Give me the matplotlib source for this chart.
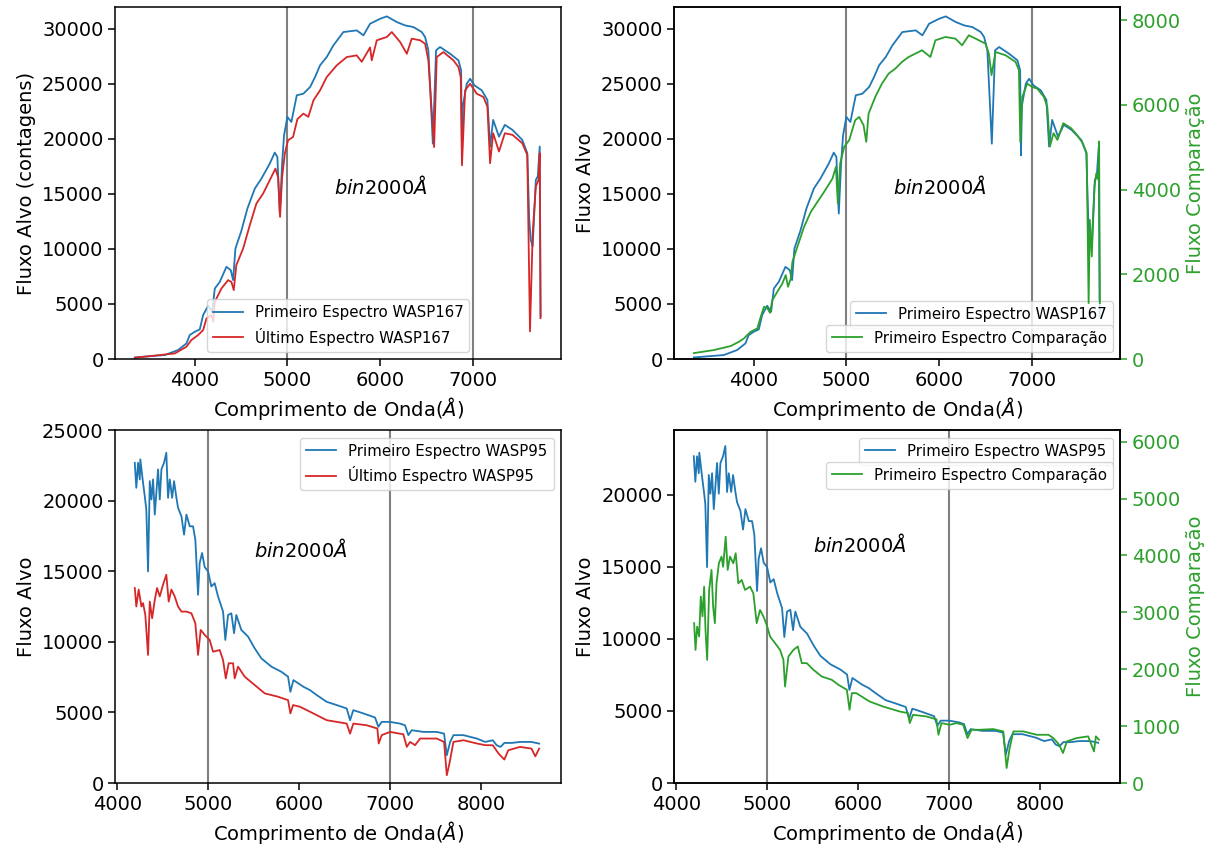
import matplotlib
matplotlib.use("Agg")
import matplotlib.pyplot as plt

# ---------------- data ----------------
w167_first_wl = [3355, 3678, 3821, 3911, 3947, 4001, 4055, 4091, 4145, 4188, 4217, 4271, 4342, 4389, 4414,
                 4439, 4503, 4568, 4648, 4719, 4809, 4863, 4891, 4917, 4942, 4963, 4999, 5042, 5100, 5171,
                 5244, 5297, 5351, 5423, 5495, 5602, 5746, 5818, 5890, 5998, 6070, 6178, 6267, 6357, 6447,
                 6483, 6518, 6566, 6601, 6644, 6752, 6842, 6871, 6880, 6890, 6932, 6968, 7014, 7093, 7154,
                 7183, 7216, 7279, 7342, 7425, 7530, 7584, 7605, 7621, 7642, 7676, 7697, 7718, 7728]
w167_first_flux = [145, 363, 817, 1416, 2178, 2477, 2690, 3993, 4837, 4292, 6406, 7014, 8375, 8073, 7168,
                   10036, 11642, 13666, 15480, 16388, 17750, 18748, 18357, 13213, 17750, 20326, 21986, 21533, 23955, 24100,
                   24710, 25616, 26678, 27432, 28493, 29700, 29852, 29400, 30453, 30906, 31124, 30607, 30306, 30153, 29700,
                   29246, 28040, 19563, 28040, 28340, 27730, 27130, 26224, 18500, 23000, 25010, 25460, 24860, 24410, 23535,
                   19300, 21720, 20200, 21270, 20810, 19900, 18700, 12650, 10830, 10220, 16270, 16580, 19300, 3870]

w167_last_wl = [3355, 3786, 3911, 3964, 4037, 4091, 4127, 4181, 4200, 4217, 4288, 4360, 4396, 4421, 4449,
                4522, 4594, 4665, 4737, 4809, 4870, 4899, 4920, 4942, 4971, 5006, 5060, 5107, 5171, 5225,
                5280, 5351, 5423, 5531, 5639, 5746, 5800, 5890, 5908, 5962, 6070, 6124, 6214, 6286, 6339,
                6429, 6483, 6518, 6580, 6608, 6680, 6788, 6842, 6867, 6880, 6914, 6968, 7039, 7111, 7154,
                7183, 7216, 7279, 7342, 7425, 7530, 7584, 7613, 7642, 7676, 7705, 7718, 7726]
w167_last_flux = [120, 508, 1116, 1724, 2178, 2631, 3684, 3993, 3400, 5200, 6406, 7168, 7000, 6260, 8530,
                  10036, 12160, 14120, 15027, 16240, 17300, 16500, 12912, 16480, 18660, 19870, 20170, 21800, 22290, 22000,
                  23500, 24410, 25616, 26678, 27430, 27580, 27000, 28300, 27130, 28950, 29250, 29700, 28790, 27730, 29100,
                  28950, 28640, 27130, 19260, 27430, 27880, 27130, 26520, 25600, 17600, 24410, 25010, 24100, 23800, 22930,
                  17790, 20510, 18850, 20510, 20360, 19600, 18540, 2510, 11430, 15670, 16270, 18700, 3720]

comp167_wl = [3355, 3571, 3752, 3841, 3895, 3968, 4039, 4076, 4111, 4147, 4176, 4201, 4255, 4309, 4345,
              4370, 4400, 4417, 4471, 4543, 4616, 4687, 4759, 4849, 4886, 4907, 4932, 4975, 5029, 5094,
              5137, 5184, 5213, 5238, 5310, 5382, 5454, 5526, 5598, 5670, 5814, 5904, 5958, 6066, 6174,
              6246, 6318, 6426, 6498, 6534, 6563, 6606, 6714, 6822, 6858, 6873, 6894, 6948, 7002, 7056,
              7127, 7164, 7192, 7231, 7273, 7336, 7420, 7483, 7546, 7588, 7609, 7622, 7643, 7672, 7692,
              7713, 7722, 7730]
comp167_flux = [140, 212, 306, 408, 486, 644, 722, 997, 1233, 1200, 1092, 1391, 1587, 1783, 1981,
                1705, 1901, 2294, 2648, 3120, 3473, 3709, 3945, 4259, 4534, 3670, 4612, 5006, 5164, 5636,
                5713, 5518, 5124, 5791, 6185, 6499, 6735, 6853, 7011, 7128, 7286, 7128, 7522, 7600, 7560,
                7404, 7640, 7522, 7443, 7207, 6700, 7246, 7168, 7011, 6815, 5124, 6185, 6499, 6420, 6381,
                6185, 5949, 5015, 5330, 5172, 5565, 5447, 5290, 5093, 4857, 1320, 3285, 2420, 4071, 4386,
                4229, 5133, 1320]

w95_first_wl = [4194, 4211, 4230, 4249, 4255, 4285, 4304, 4321, 4340, 4359, 4377, 4395, 4414, 4450, 4469,
                4487, 4516, 4541, 4560, 4579, 4605, 4626, 4652, 4670, 4707, 4736, 4762, 4799, 4835, 4860,
                4890, 4908, 4934, 4963, 5000, 5036, 5073, 5110, 5165, 5190, 5220, 5256, 5286, 5311, 5366,
                5440, 5513, 5586, 5697, 5806, 5880, 5906, 5939, 6048, 6121, 6195, 6305, 6415, 6525, 6562,
                6598, 6708, 6837, 6873, 6910, 7001, 7111, 7166, 7203, 7240, 7368, 7515, 7596, 7626, 7663,
                7699, 7809, 7956, 8048, 8132, 8174, 8217, 8259, 8344, 8430, 8557, 8642]
w95_first_flux = [22680, 20910, 22680, 21500, 22920, 21260, 20310, 19370, 14985, 21380, 20080, 21500, 19010, 22210, 20080,
                  22210, 22680, 23390, 20200, 21500, 20200, 21380, 20200, 19490, 18890, 17590, 19010, 18180, 18180, 17240,
                  13330, 15580, 16290, 15290, 14990, 13920, 14150, 13210, 12140, 10130, 11900, 12020, 10610, 11900, 10840,
                  10370, 9540, 8830, 8240, 7880, 7530, 6460, 7290, 6820, 6580, 6230, 5750, 5520, 5280, 4450,
                  5160, 4930, 4640, 3980, 4330, 4330, 4210, 4090, 3390, 3740, 3620, 3620, 3500, 1970, 2910,
                  3390, 3390, 3150, 2910, 3030, 2675, 2556, 2840, 2840, 2910, 2910, 2790]

w95_last_wl = [4194, 4211, 4237, 4267, 4285, 4310, 4340, 4359, 4385, 4414, 4439, 4469, 4505, 4541, 4567,
               4597, 4633, 4670, 4707, 4762, 4817, 4860, 4890, 4919, 4963, 5018, 5055, 5128, 5165, 5195,
               5227, 5275, 5293, 5330, 5403, 5513, 5623, 5770, 5880, 5906, 5935, 6011, 6158, 6305, 6525,
               6562, 6598, 6745, 6862, 6877, 6910, 7001, 7148, 7186, 7222, 7277, 7332, 7515, 7596, 7626,
               7655, 7699, 7809, 7956, 8048, 8132, 8196, 8259, 8302, 8430, 8557, 8600, 8642]
w95_last_flux = [13810, 12500, 13700, 12500, 12740, 11910, 9070, 12850, 11670, 12970, 13810, 13220, 14050, 14750, 12850,
                 13700, 13220, 12500, 12140, 12140, 12020, 11320, 9070, 10840, 10490, 10130, 9300, 9420, 8710, 7410,
                 8480, 8480, 7410, 8240, 7530, 6940, 6350, 6110, 5870, 4930, 5520, 5400, 4930, 4450, 4210,
                 3500, 4210, 4090, 3860, 2800, 3390, 3620, 3450, 2560, 2910, 2680, 3150, 3150, 2910, 550,
                 1380, 2910, 3030, 2800, 2680, 2675, 2080, 1660, 2320, 2556, 2440, 1890, 2440]

comp95_wl = [4198, 4213, 4231, 4253, 4271, 4290, 4308, 4323, 4341, 4363, 4389, 4407, 4426, 4444, 4470,
             4499, 4517, 4545, 4567, 4592, 4629, 4655, 4684, 4721, 4758, 4813, 4849, 4886, 4923, 4959,
             4996, 5033, 5088, 5143, 5180, 5198, 5235, 5290, 5338, 5382, 5437, 5510, 5602, 5713, 5786,
             5878, 5907, 5933, 5981, 6128, 6275, 6459, 6551, 6569, 6606, 6753, 6863, 6885, 6918, 7010,
             7084, 7157, 7205, 7249, 7341, 7488, 7598, 7635, 7665, 7709, 7819, 7966, 8095, 8149, 8213,
             8255, 8298, 8404, 8532, 8596, 8617, 8651]
comp95_flux = [2810, 2340, 2750, 2575, 3277, 2930, 3452, 2690, 2165, 3394, 3746, 3100, 2810, 3510, 3863,
               3980, 3800, 4330, 3746, 3980, 3863, 4039, 3510, 3570, 3394, 3452, 3335, 2810, 3042, 2930,
               2780, 2575, 2458, 2340, 2165, 1696, 2224, 2340, 2400, 2107, 2107, 1990, 1872, 1813, 1725,
               1638, 1287, 1580, 1580, 1433, 1345, 1257, 1228, 1053, 1199, 1170, 1120, 848, 1053, 1024,
               1053, 1024, 790, 936, 936, 948, 907, 263, 585, 907, 907, 848, 848, 790, 673,
               527, 732, 790, 820, 556, 820, 761]

top_xticks = [4000, 5000, 6000, 7000]
bottom_xticks = [4000, 5000, 6000, 7000, 8000]
bin_lines = [5000, 7000]
annot = r'$bin2000\AA$'

# ---------------- style ----------------
BLUE, RED, GREEN = '#1f77b4', '#d62728', '#2ca02c'
FS = 14
plt.rcParams.update({
    'font.size': FS,
    'axes.linewidth': 1.1,
    'xtick.major.width': 1.1, 'ytick.major.width': 1.1,
    'xtick.major.size': 4.8, 'ytick.major.size': 4.8,
    'legend.fontsize': 10.8,
})
LW = 1.3

fig = plt.figure(figsize=(12.2, 8.5), dpi=100)
W, H = 0.3656, 0.4141
ax_tl = fig.add_axes([0.0943, 0.5776, W, H])
ax_tr = fig.add_axes([0.5525, 0.5776, W, H])
ax_bl = fig.add_axes([0.0943, 0.0788, W, 0.4153])
ax_br = fig.add_axes([0.5525, 0.0788, W, 0.4153])

xlabel = 'Comprimento de Onda($\\AA$)'

def vlines(ax):
    for v in bin_lines:
        ax.axvline(v, color='gray', lw=1.5)

# top-left
vlines(ax_tl)
ax_tl.plot(w167_first_wl, w167_first_flux, color=BLUE, lw=LW, label='Primeiro Espectro WASP167')
ax_tl.plot(w167_last_wl, w167_last_flux, color=RED, lw=LW, label='Último Espectro WASP167')
ax_tl.set_xlim(3142, 7948)
ax_tl.set_ylim(0, 31970)
ax_tl.set_xticks(top_xticks)
ax_tl.set_xlabel(xlabel)
ax_tl.set_ylabel('Fluxo Alvo (contagens)')
ax_tl.text(5500, 15000, annot)
ax_tl.legend(loc='lower center')

# top-right
vlines(ax_tr)
ax_tr.plot(w167_first_wl, w167_first_flux, color=BLUE, lw=LW, label='Primeiro Espectro WASP167')
ax_tr.set_xlim(3142, 7948)
ax_tr.set_ylim(0, 31970)
ax_tr.set_xticks(top_xticks)
ax_tr.set_xlabel(xlabel)
ax_tr.set_ylabel('Fluxo Alvo')
ax_tr.text(5500, 15000, annot)
ax_tr.legend(loc='lower right', bbox_to_anchor=(1, 0.068))
ax_tr2 = ax_tr.twinx()
ax_tr2.plot(comp167_wl, comp167_flux, color=GREEN, lw=LW, label='Primeiro Espectro Comparação')
ax_tr2.set_ylim(0, 8306)
ax_tr2.set_yticks([0, 2000, 4000, 6000, 8000])
ax_tr2.set_ylabel('Fluxo Comparação', color=GREEN)
ax_tr2.tick_params(axis='y', colors=GREEN)
ax_tr2.legend(loc='lower right')

# bottom-left
vlines(ax_bl)
ax_bl.plot(w95_first_wl, w95_first_flux, color=BLUE, lw=LW, label='Primeiro Espectro WASP95')
ax_bl.plot(w95_last_wl, w95_last_flux, color=RED, lw=LW, label='Último Espectro WASP95')
ax_bl.set_xlim(3977, 8883)
ax_bl.set_ylim(0, 25000)
ax_bl.set_xticks(bottom_xticks)
ax_bl.set_xlabel(xlabel)
ax_bl.set_ylabel('Fluxo Alvo')
ax_bl.text(5500, 16000, annot)
ax_bl.legend(loc='upper right')

# bottom-right
vlines(ax_br)
ax_br.plot(w95_first_wl, w95_first_flux, color=BLUE, lw=LW, label='Primeiro Espectro WASP95')
ax_br.set_xlim(3977, 8883)
ax_br.set_ylim(0, 24500)
ax_br.set_xticks(bottom_xticks)
ax_br.set_xlabel(xlabel)
ax_br.set_ylabel('Fluxo Alvo')
ax_br.text(5500, 16000, annot)
ax_br.legend(loc='upper right')
ax_br2 = ax_br.twinx()
ax_br2.plot(comp95_wl, comp95_flux, color=GREEN, lw=LW, label='Primeiro Espectro Comparação')
ax_br2.set_ylim(0, 6205)
ax_br2.set_yticks([0, 1000, 2000, 3000, 4000, 5000, 6000])
ax_br2.set_ylabel('Fluxo Comparação', color=GREEN)
ax_br2.tick_params(axis='y', colors=GREEN)
ax_br2.legend(loc='upper right', bbox_to_anchor=(1, 1 - 0.068))

fig.savefig('out.png', dpi=100)
